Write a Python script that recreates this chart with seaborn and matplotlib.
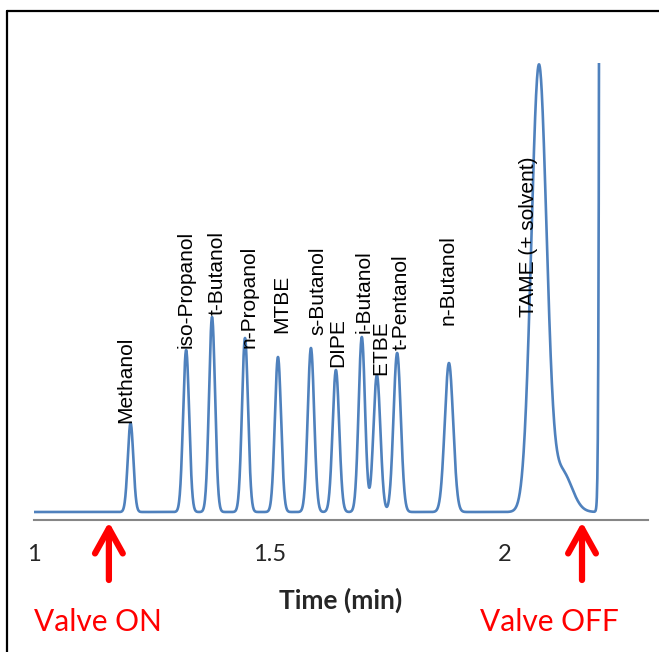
import numpy as np
import pandas as pd
import matplotlib
matplotlib.use("Agg")
import matplotlib.pyplot as plt
import seaborn as sns

# ---------------- data ----------------
compounds = ["Methanol", "iso-Propanol", "t-Butanol", "n-Propanol", "MTBE",
             "s-Butanol", "DIPE", "i-Butanol", "ETBE", "t-Pentanol",
             "n-Butanol", "TAME (+ solvent)"]
ret_time = [1.205, 1.323, 1.378, 1.448, 1.518, 1.588, 1.641, 1.696, 1.728,
            1.771, 1.881, 2.072]
peak_height = [89, 162, 195, 174, 155, 164, 142, 175, 137, 159, 149, 445]
peak_sigma = [0.0059, 0.0064, 0.0064, 0.0064, 0.0066, 0.0068, 0.0070, 0.0068,
              0.0074, 0.0077, 0.0089, 0.0162]
# TAME shoulder (tail) and solvent front after the valve is switched off
shoulder = dict(time=2.121, height=40, sigma=0.021)
solvent = dict(time=2.216, height=1.0e5, sigma=0.005)
tick_values = [1, 1.5, 2]
tick_labels = ["1", "1.5", "2"]
valve_times = [1.159, 2.1635]
valve_labels = ["Valve ON", "Valve OFF"]

# ---------------- trace built from the peak table ----------------
t = np.arange(1.0, 2.2045, 0.0005)
signal = np.zeros_like(t)
for rt, h, s in zip(ret_time, peak_height, peak_sigma):
    signal += h * np.exp(-0.5 * ((t - rt) / s) ** 2)
for p in (shoulder, solvent):
    signal += p["height"] * np.exp(-0.5 * ((t - p["time"]) / p["sigma"]) ** 2)
df = pd.DataFrame({"Time (min)": t, "Signal": signal})

# ---------------- figure ----------------
sns.set_style("white")
plt.rcParams["font.family"] = ["Liberation Sans", "DejaVu Sans"]

W, H = 659, 652
fig = plt.figure(figsize=(W / 100, H / 100), dpi=100)
ax_l, ax_r, ax_t, ax_b = 34, 648, 63, 520  # pixel box of the plot area
ax = fig.add_axes([ax_l / W, 1 - ax_b / H, (ax_r - ax_l) / W, (ax_b - ax_t) / H])

px_per_min = 471.0
sns.lineplot(data=df, x="Time (min)", y="Signal", ax=ax, color="#4F81BD",
             linewidth=1.9, sort=False, clip_on=True)
ax.set_xlim(1.0, 1.0 + (ax_r - ax_l) / px_per_min)
ax.set_ylim(-8, ax_b - ax_t - 8)

for sp in ["left", "right", "top"]:
    ax.spines[sp].set_visible(False)
ax.spines["bottom"].set_color("#868686")
ax.spines["bottom"].set_linewidth(1.5)
ax.set_yticks([])
ax.set_xticks(tick_values)
ax.set_xticklabels(tick_labels, fontfamily="Lato", fontsize=17)
ax.tick_params(axis="x", length=0, pad=17)
ax.set_xlabel("")
ax.set_ylabel("")

# peak labels (offsets in pixels relative to each peak apex)
label_offsets = [(-5, 0), (0, 2), (5, 2), (4, -10), (4, 24), (7, 13), (2, 3),
                 (2, 4), (4, 0), (4, 3), (-1, 38), (-10, -250)]
for name, rt, h, (dx, dy) in zip(compounds, ret_time, peak_height, label_offsets):
    ax.annotate(name, xy=(rt, h), xytext=(dx, dy), textcoords="offset pixels",
                rotation=90, ha="center", va="bottom", fontsize=15,
                color="black")

# x-axis title
fig.text(341 / W, 1 - 600 / H, "Time (min)", ha="center", va="center",
         fontfamily="Lato", fontweight="bold", fontsize=19)

# valve arrows and labels
trans = ax.get_xaxis_transform()
ah = ax_b - ax_t
tip_y = -2 / ah
tail_y = -(580 - ax_b) / ah
label_x_px = [98, 549]
for vt, lab, lx in zip(valve_times, valve_labels, label_x_px):
    ax.annotate("", xy=(vt, tip_y), xytext=(vt, tail_y), xycoords=trans,
                textcoords=trans, annotation_clip=False,
                arrowprops=dict(arrowstyle="->,head_length=0.9,head_width=0.5",
                                color="#FF0000", lw=4.5, mutation_scale=20,
                                shrinkA=0, shrinkB=0, capstyle="round",
                                joinstyle="round"))
    fig.text(lx / W, 1 - 622 / H, lab, ha="center", va="center",
             fontfamily="Lato", fontsize=21.5, color="#FF0000")

# outer frame (left and top edges visible in the reference)
fig.add_artist(plt.Line2D([7 / W, 7 / W], [0, 1 - 11 / H], color="black",
                          lw=1.6, transform=fig.transFigure))
fig.add_artist(plt.Line2D([7 / W, 1], [1 - 11 / H, 1 - 11 / H], color="black",
                          lw=1.6, transform=fig.transFigure))

fig.savefig("out.png", dpi=100)
